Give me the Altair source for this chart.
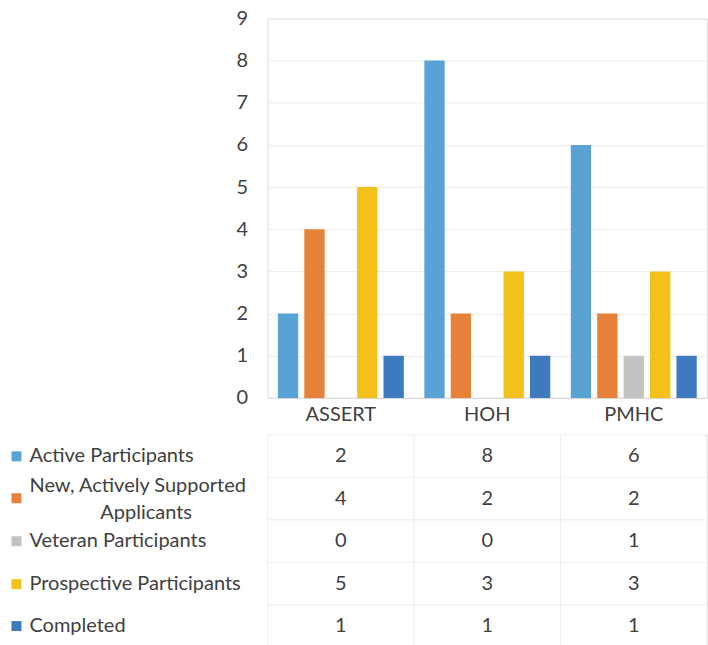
import altair as alt
import pandas as pd

categories = ["ASSERT", "HOH", "PMHC"]
series = [
    "Active Participants",
    "New, Actively Supported Applicants",
    "Veteran Participants",
    "Prospective Participants",
    "Completed",
]
active = [2, 8, 6]
new_applicants = [4, 2, 2]
veteran = [0, 0, 1]
prospective = [5, 3, 3]
completed = [1, 1, 1]
colors = ["#58a3d3", "#e6823a", "#c2c2c2", "#f2c21a", "#3e7abd"]
y_ticks = list(range(0, 10))

values_by_series = [active, new_applicants, veteran, prospective, completed]
rows = []
for s, vals in zip(series, values_by_series):
    for c, v in zip(categories, vals):
        rows.append({"category": c, "series": s, "value": v})
df = pd.DataFrame(rows)

FONT = "Lato"
TXT = "#404040"
FS = 20

x_scale = alt.Scale(domain=categories, paddingInner=0.14, paddingOuter=0.07)

bars = (
    alt.Chart(df)
    .mark_bar()
    .encode(
        x=alt.X(
            "category:N",
            scale=x_scale,
            sort=categories,
            axis=alt.Axis(
                title=None,
                orient="bottom",
                labelAngle=0,
                labelFontSize=FS,
                labelColor=TXT,
                labelFont=FONT,
                labelPadding=7,
                ticks=False,
                domainColor="#d6d6d6",
            ),
        ),
        xOffset=alt.XOffset(
            "series:N",
            sort=series,
            scale=alt.Scale(domain=series, paddingInner=0.23, paddingOuter=0),
        ),
        y=alt.Y(
            "value:Q",
            scale=alt.Scale(domain=[0, 9], nice=False),
            axis=alt.Axis(
                title=None,
                values=y_ticks,
                labelFontSize=FS,
                labelColor=TXT,
                labelFont=FONT,
                labelPadding=20,
                ticks=False,
                domain=False,
                gridColor="#ededed",
            ),
        ),
        color=alt.Color(
            "series:N",
            scale=alt.Scale(domain=series, range=colors),
            legend=None,
        ),
    )
    .properties(width=440, height=380)
)

tick_color = {
    "condition": [
        {"test": f"datum.value === '{s}'", "value": col}
        for s, col in zip(series[:-1], colors[:-1])
    ],
    "value": colors[-1],
}
label_offset = {
    "condition": {"test": f"datum.value === '{series[1]}'", "value": -13},
    "value": 0,
}

PAD = "\u200b" + "\u00a0" * 14
row_y = alt.Y(
    "series:N",
    sort=series,
    scale=alt.Scale(domain=series, paddingInner=0, paddingOuter=0),
    axis=alt.Axis(
        title=None,
        orient="left",
        offset=247,
        domain=False,
        grid=False,
        tickSize=10,
        tickWidth=10,
        tickColor=tick_color,
        labelAlign="left",
        labelBaseline="middle",
        labelPadding=-18,
        labelLimit=400,
        labelFontSize=FS,
        labelColor=TXT,
        labelFont=FONT,
        labelLineHeight=27,
        labelOffset=label_offset,
        labelExpr=(
            f"datum.value === '{series[1]}' ? "
            f"['New, Actively Supported', '{PAD}Applicants'] : datum.value"
        ),
    ),
)

table_x = alt.X(
    "category:N",
    sort=categories,
    scale=alt.Scale(domain=categories, paddingInner=0, paddingOuter=0),
    axis=None,
)

cells = (
    alt.Chart(df)
    .mark_rect(fill="white", stroke="#efefef", strokeWidth=1)
    .encode(x=table_x, y=row_y)
)
texts = (
    alt.Chart(df)
    .mark_text(fontSize=FS, color=TXT, font=FONT)
    .encode(x=table_x, y=row_y, text="value:Q")
)
table = alt.layer(cells, texts).properties(width=440, height=213)

chart = (
    alt.vconcat(bars, table, spacing=8)
    .resolve_scale(x="independent", y="independent")
    .properties(padding={"left": 5, "top": 7, "right": 0, "bottom": 0})
    .configure_view(stroke=None)
    .configure(background="white")
)

chart.save("out.html", embed_options={"renderer": "svg", "actions": False})
